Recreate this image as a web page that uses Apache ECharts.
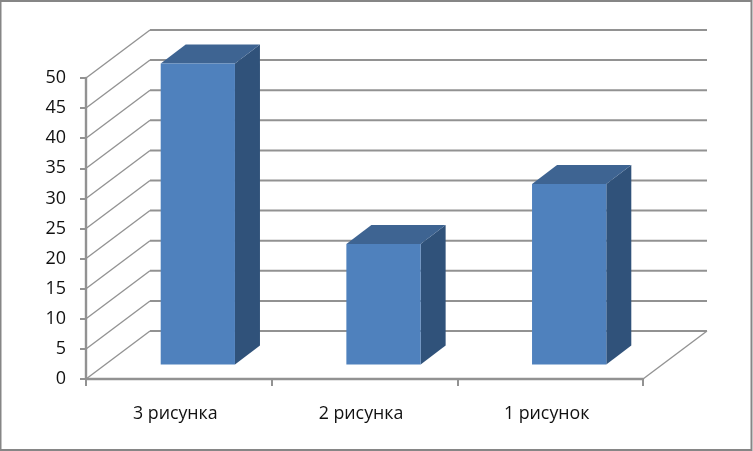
<!DOCTYPE html>
<html>
<head>
<meta charset="utf-8">
<style>html,body{margin:0;padding:0;background:#fff}#c{width:753px;height:451px}</style>
<script src="https://cdn.jsdelivr.net/npm/echarts@6/dist/echarts.min.js"></script>
</head>
<body>
<div id="c"></div>
<script>
var categories = ['3 рисунка', '2 рисунка', '1 рисунок'];
var values = [50, 20, 30];
var gridValues = [0, 5, 10, 15, 20, 25, 30, 35, 40, 45, 50];

var wallDX = 64, wallDY = -48;
var barFrontDX = 19, barFrontDY = -14.5;
var barDX = 25, barDY = -19;
var barShare = 0.4;
var lineColor = '#868686';
var gridColor = '#929292';
var textColor = '#111111';
var fontFamily = '"Open Sans","Noto Sans",sans-serif';

var chart = echarts.init(document.getElementById('c'), null, {renderer: 'canvas'});

function renderWall(params, api) {
  var r = params.coordSys;
  var y = api.coord([0, api.value(1)])[1];
  var x0 = r.x, x1 = r.x + r.width;
  var children = [{
    type: 'line',
    shape: {x1: x0, y1: y, x2: x0 + wallDX, y2: y + wallDY},
    style: {stroke: gridColor, lineWidth: 1.3}
  }, {
    type: 'line',
    shape: {x1: x0 + wallDX, y1: y + wallDY, x2: x1 + wallDX, y2: y + wallDY},
    style: {stroke: gridColor, lineWidth: 2}
  }];
  if (api.value(1) === 0) {
    children.push({
      type: 'line',
      shape: {x1: x1, y1: y, x2: x1 + wallDX, y2: y + wallDY},
      style: {stroke: gridColor, lineWidth: 1.3}
    });
  }
  return {type: 'group', children: children};
}

function renderBar(params, api) {
  var c = api.value(0), v = api.value(1);
  var top = api.coord([c, v]), bot = api.coord([c, 0]);
  var w = api.size([1, 0])[0] * barShare;
  var l = top[0] + barFrontDX - w / 2, r = l + w;
  var t = top[1] + barFrontDY, b = bot[1] + barFrontDY;
  return {type: 'group', children: [
    {type: 'polygon', shape: {points: [[r, t], [r + barDX, t + barDY], [r + barDX, b + barDY], [r, b]]},
     style: {fill: '#30527A'}},
    {type: 'polygon', shape: {points: [[l, t], [l + barDX, t + barDY], [r + barDX, t + barDY], [r, t]]},
     style: {fill: '#3E6492'}},
    {type: 'rect', shape: {x: l, y: t, width: w, height: b - t},
     style: {fill: '#4F81BD'}}
  ]};
}

chart.setOption({
  animation: false,
  backgroundColor: '#fff',
  graphic: [{
    type: 'rect', silent: true, z: 100,
    shape: {x: 0.5, y: 1, width: 751, height: 449},
    style: {fill: null, stroke: lineColor, lineWidth: 2}
  }],
  grid: {left: 86, right: 110, top: 78, bottom: 72},
  xAxis: {
    type: 'category',
    data: categories,
    axisLine: {show: true, lineStyle: {color: gridColor, width: 2.4}},
    axisTick: {show: true, alignWithLabel: false, length: 7, lineStyle: {color: gridColor, width: 2}},
    axisLabel: {color: textColor, fontFamily: fontFamily, fontSize: 17.8, margin: 26, interval: 0, padding: [0, 0, 0, -7]},
    splitLine: {show: false}
  },
  yAxis: {
    type: 'value',
    min: 0, max: 50, interval: 5,
    axisLine: {show: true, lineStyle: {color: gridColor, width: 2.4}},
    axisTick: {show: true, length: 6, lineStyle: {color: gridColor, width: 2}},
    axisLabel: {color: textColor, fontFamily: fontFamily, fontSize: 18, margin: 20, padding: [5, 0, 0, 0]},
    splitLine: {show: false}
  },
  series: [
    {
      type: 'custom', coordinateSystem: 'cartesian2d', clip: false, silent: true, z: 1,
      renderItem: renderWall,
      encode: {x: 0, y: 1},
      data: gridValues.map(function (v) { return [0, v]; })
    },
    {
      type: 'custom', coordinateSystem: 'cartesian2d', clip: false, silent: true, z: 3,
      renderItem: renderBar,
      encode: {x: 0, y: 1},
      data: values.map(function (v, i) { return [i, v]; })
    }
  ]
});
</script>
</body>
</html>
